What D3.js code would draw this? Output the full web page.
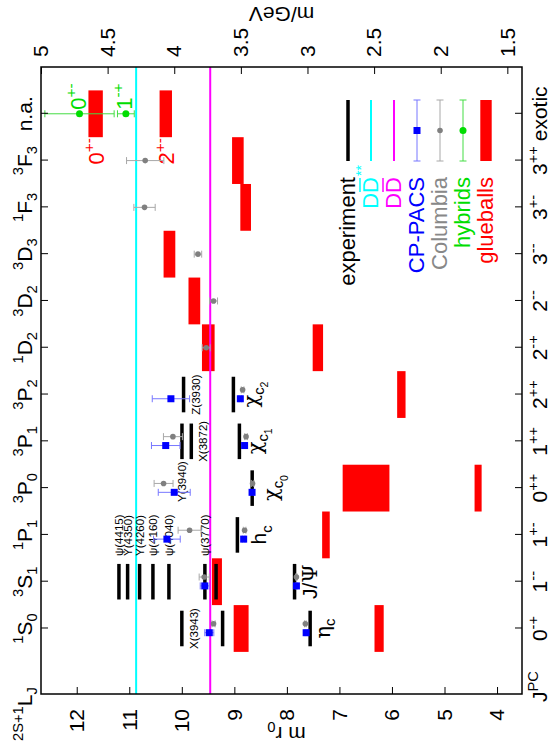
<!DOCTYPE html>
<html>
<head>
<meta charset="utf-8">
<script src="https://cdn.jsdelivr.net/npm/d3@7/dist/d3.min.js"></script>
<style>
body { margin: 0; background: #fff; }
text { font-family: "Liberation Sans", Arial, Helvetica, sans-serif; }
</style>
</head>
<body>
<svg id="chart" width="557" height="747"></svg>
<script>
// the plot is drawn landscape (747 x 557) and turned a quarter turn counter-clockwise

// states along the category axis
var stateSup = ["1","3","1","3","3","3","1","3","3","1","3",""];
var stateL   = ["S","S","P","P","P","P","D","D","D","F","F","n.a."];
var stateSub = ["0","1","1","0","1","2","2","2","3","3","3",""];
var jpcJ     = ["0","1","1","0","1","2","2","2","3","3","3","exotic"];
var jpcPC    = ["-+","--","+-","++","++","++","-+","--","--","+-","++",""];

var gevTicks = [1.5, 2, 2.5, 3, 3.5, 4, 4.5, 5];
var mr0Ticks = [4, 5, 6, 7, 8, 9, 10, 11, 12];
var r0 = 2.536; // m r0 per GeV

// D D-bar** and D D-bar thresholds (GeV)
var thrMass  = [4.286, 3.730];
var thrColor = ["#00ffff", "#ff00ff"];

// experiment (GeV)
var expState = [0,0,0, 1,1,1,1,1,1,1,1, 2, 3, 4,4,4, 5,5];
var expMass  = [2.980,3.637,3.943, 3.097,3.686,3.770,4.040,4.160,4.260,4.350,4.415, 3.526, 3.415, 3.511,3.872,3.942, 3.556,3.930];
var expName  = ["ηc","","X(3943)", "J/Ψ","","ψ(3770)","ψ(4040)","ψ(4160)","Y(4260)","Y(4350)","ψ(4415)", "hc", "χc0", "χc1","X(3872)","Y(3940)", "χc2","Z(3930)"];

// CP-PACS
var cpState = [0,0, 1,1, 2,2, 3,3, 4,4, 5,5];
var cpMass  = [3.010,3.737, 3.083,3.771, 3.479,4.055, 3.416,4.000, 3.472,4.064, 3.504,4.025];
var cpErr   = [0.008,0.034, 0.006,0.034, 0.010,0.100, 0.010,0.120, 0.010,0.107, 0.010,0.140];

// Columbia
var coState = [0,0, 1,1, 2,2, 3,3, 4,4, 5, 6,7,8, 9,10];
var coMass  = [3.016,3.705, 3.083,3.775, 3.472,3.885, 3.412,4.080, 3.461,4.010, 3.487, 3.760,3.705,3.822, 4.223,4.218];
var coErr   = [0.006,0.012, 0.006,0.038, 0.010,0.086, 0.010,0.071, 0.010,0.071, 0.010, 0.030,0.030,0.028, 0.080,0.140];

// hybrids
var hyState = [11, 11];
var hyMass  = [4.711, 4.363];
var hyErr   = [0.260, 0.063];
var hyJ     = ["0", "1"];
var hyPC    = ["+-", "-+"];

// glueballs (GeV band)
var gbState = [0,0, 1, 2, 3,3, 5, 6,6, 7, 8, 9, 10, 11,11];
var gbLow   = [3.442,2.428, 3.642, 2.833, 2.385,1.693, 2.264, 3.697,2.883, 3.805, 3.992, 3.424, 3.479, 4.536,4.017];
var gbHigh  = [3.554,2.497, 3.717, 2.890, 2.736,1.746, 2.327, 3.792,2.961, 3.893, 4.080, 3.504, 3.566, 4.644,4.110];
var gbJ     = ["","", "", "", "","", "", "","", "", "", "", "", "0","2"];
var gbPC    = ["","", "", "", "","", "", "","", "", "", "", "", "+-","+-"];

var legendNames  = ["experiment", "DD", "DD", "CP-PACS", "Columbia", "hybrids", "glueballs"];
var legendColors = ["#000000", "#00ffff", "#ff00ff", "#0000ff", "#888888", "#00dd00", "#ff0000"];

var svg = d3.select("#chart");
svg.append("rect").attr("width", 557).attr("height", 747).attr("fill", "#fff");

var g = svg.append("g").attr("transform", "translate(0,747) rotate(-90)");

var pLeft = 53, pRight = 680, pTop = 41, pBottom = 522;
var x = d3.scaleLinear().domain([-1.4, 12]).range([pLeft, pRight]);
var y = d3.scaleLinear().domain([1.39, 5.0]).range([pBottom, pTop]);
var yr = d3.scaleLinear().domain([1.39 * r0, 5.0 * r0]).range([pBottom, pTop]);
var step = x(1) - x(0);

function rich(t, parts, size) {
  var cur = 0;
  parts.forEach(function(p) {
    var shift = 0, fs = size;
    if (p[1] == "sup") { shift = -0.42 * size; fs = 0.7 * size; }
    if (p[1] == "sub") { shift = 0.25 * size; fs = 0.7 * size; }
    if (p[1] == "subsub") { shift = 0.45 * size; fs = 0.5 * size; }
    var ts = t.append("tspan").attr("dy", shift - cur).style("font-size", fs + "px").text(p[0]);
    if (p[2]) ts.style("font-family", p[2]);
    cur = shift;
  });
  return t;
}

// glueball boxes
gbState.forEach(function(s, i) {
  g.append("rect")
    .attr("x", x(s - 0.5)).attr("width", step)
    .attr("y", y(gbHigh[i])).attr("height", y(gbLow[i]) - y(gbHigh[i]))
    .attr("fill", "#ff0000");
  if (gbJ[i]) {
    rich(g.append("text").attr("x", x(s - 0.5) - 1).attr("y", y((gbLow[i] + gbHigh[i]) / 2) + 8)
      .attr("text-anchor", "end").attr("fill", "#ff0000").style("font-size", "22px"),
      [[gbJ[i], "n"], [gbPC[i], "sup"]], 22);
  }
});

// thresholds
thrMass.forEach(function(m, i) {
  g.append("line").attr("x1", pLeft).attr("x2", pRight)
    .attr("y1", y(m)).attr("y2", y(m))
    .attr("stroke", thrColor[i]).attr("stroke-width", 2);
});

// experiment bars and names
var greek = "'DejaVu Serif', serif";
var bigDy = {"ηc": 20, "J/Ψ": 22, "hc": 29, "χc0": 26, "χc1": 23, "χc2": 25};
var rightNames = ["ψ(3770)","ψ(4040)","ψ(4160)","Y(4260)","Y(4350)","ψ(4415)"];
expState.forEach(function(s, i) {
  var ym = y(expMass[i]);
  g.append("line").attr("x1", x(s - 0.38)).attr("x2", x(s + 0.38))
    .attr("y1", ym).attr("y2", ym)
    .attr("stroke", "#000").attr("stroke-width", 3.5);
  var n = expName[i];
  if (!n) return;
  if (bigDy[n] !== undefined) {
    var parts;
    if (n == "J/Ψ") parts = [["J/", "n"], ["Ψ", "n", greek]];
    else {
      parts = [[n.charAt(0), "n", n.charAt(0) == "h" ? null : greek], ["c", "sub"]];
      if (n.length > 2) parts.push([n.charAt(2), "subsub"]);
    }
    rich(g.append("text").attr("x", x(s)).attr("y", ym + bigDy[n])
      .attr("text-anchor", "middle").style("font-size", "21px"), parts, 21);
  } else if (rightNames.indexOf(n) >= 0) {
    g.append("text").attr("x", x(s + 0.38) + 8).attr("y", ym + 4)
      .style("font-size", "11.5px").text(n);
  } else if (n == "Y(3940)") {
    g.append("text").attr("x", x(s - 0.38) - 2).attr("y", ym + 4)
      .attr("text-anchor", "end").style("font-size", "11.5px").text(n);
  } else {
    g.append("text").attr("x", x(s)).attr("y", ym + 16)
      .attr("text-anchor", "middle").style("font-size", "11.5px").text(n);
  }
});

function errbar(px, m, e, col) {
  g.append("line").attr("x1", px).attr("x2", px).attr("y1", y(m - e)).attr("y2", y(m + e))
    .attr("stroke", col).attr("stroke-width", 1);
  [m - e, m + e].forEach(function(v) {
    g.append("line").attr("x1", px - 3.5).attr("x2", px + 3.5).attr("y1", y(v)).attr("y2", y(v))
      .attr("stroke", col).attr("stroke-width", 1);
  });
}

// Columbia
coState.forEach(function(s, i) {
  var px = x(s <= 5 ? s + 0.1 : s);
  errbar(px, coMass[i], coErr[i], "#a8a8a8");
  g.append("circle").attr("cx", px).attr("cy", y(coMass[i])).attr("r", 2.8).attr("fill", "#808080");
});

// CP-PACS
cpState.forEach(function(s, i) {
  var px = x(s - 0.09);
  errbar(px, cpMass[i], cpErr[i], "#7777ff");
  g.append("rect").attr("x", px - 3.5).attr("y", y(cpMass[i]) - 3.5)
    .attr("width", 7).attr("height", 7).attr("fill", "#0000ff");
});

// hybrids
hyState.forEach(function(s, i) {
  var px = x(s);
  errbar(px, hyMass[i], hyErr[i], "#44dd44");
  g.append("circle").attr("cx", px).attr("cy", y(hyMass[i])).attr("r", 3.5).attr("fill", "#00dd00");
  rich(g.append("text").attr("x", px + 4).attr("y", y(hyMass[i]) + 6)
    .attr("fill", "#00dd00").style("font-size", "22px"), [[hyJ[i], "n"], [hyPC[i], "sup"]], 22);
});

// legend
var lgX1 = 586, lgX2 = 647, lgTxt = 570;
legendNames.forEach(function(name, i) {
  var ly = 348 + i * 23;
  var col = legendColors[i];
  if (i == 0) {
    g.append("line").attr("x1", lgX1).attr("x2", lgX2).attr("y1", ly).attr("y2", ly)
      .attr("stroke", col).attr("stroke-width", 3.5);
  } else if (i < 3) {
    g.append("line").attr("x1", lgX1).attr("x2", lgX2).attr("y1", ly).attr("y2", ly)
      .attr("stroke", col).attr("stroke-width", 2);
  } else if (i < 6) {
    var lc = ["#7777ff", "#a8a8a8", "#44dd44"][i - 3];
    g.append("line").attr("x1", lgX1).attr("x2", lgX2).attr("y1", ly).attr("y2", ly).attr("stroke", lc);
    [lgX1, lgX2].forEach(function(cx) {
      g.append("line").attr("x1", cx).attr("x2", cx).attr("y1", ly - 3.5).attr("y2", ly + 3.5).attr("stroke", lc);
    });
    var mid = (lgX1 + lgX2) / 2;
    if (i == 3) g.append("rect").attr("x", mid - 3.5).attr("y", ly - 3.5).attr("width", 7).attr("height", 7).attr("fill", col);
    else g.append("circle").attr("cx", mid).attr("cy", ly).attr("r", i == 4 ? 2.8 : 3.5).attr("fill", i == 4 ? "#808080" : col);
  } else {
    g.append("rect").attr("x", lgX1).attr("width", lgX2 - lgX1).attr("y", ly - 5.7).attr("height", 11.4).attr("fill", col);
  }
  var t = g.append("text").attr("x", lgTxt).attr("y", ly + 7).attr("text-anchor", "end")
    .attr("fill", col).style("font-size", "22px").text(name);
  if (i == 1 || i == 2) {
    var w = t.node().getComputedTextLength();
    g.append("line").attr("x1", lgTxt - w / 2 + 1).attr("x2", lgTxt - 1)
      .attr("y1", ly + 7 - 18).attr("y2", ly + 7 - 18).attr("stroke", col).attr("stroke-width", 1.5);
    if (i == 1) g.append("text").attr("x", lgTxt + 1).attr("y", ly - 5).attr("fill", col)
      .style("font-size", "14px").text("**");
  }
});

// axes
function styleAxis(a) {
  a.select(".domain").remove();
  a.selectAll("line").attr("stroke", "#000");
  a.selectAll("text").style("font-size", "21px").attr("fill", "#000")
    .style("font-family", "'Liberation Sans', Arial, sans-serif");
}
styleAxis(g.append("g").attr("transform", "translate(" + pLeft + ",0)")
  .call(d3.axisLeft(yr).tickValues(mr0Ticks).tickSize(-7).tickSizeOuter(0).tickPadding(15).tickFormat(d3.format("d"))));
styleAxis(g.append("g").attr("transform", "translate(" + pRight + ",0)")
  .call(d3.axisRight(y).tickValues(gevTicks).tickSize(-7).tickSizeOuter(0).tickPadding(10).tickFormat(d3.format(""))));
styleAxis(g.append("g").attr("transform", "translate(0," + pTop + ")")
  .call(d3.axisTop(x).tickValues(d3.range(12)).tickSize(-7).tickSizeOuter(0).tickFormat("")));
styleAxis(g.append("g").attr("transform", "translate(0," + pBottom + ")")
  .call(d3.axisBottom(x).tickValues(d3.range(12)).tickSize(-7).tickSizeOuter(0).tickFormat("")));

g.append("rect").attr("x", pLeft).attr("y", pTop).attr("width", pRight - pLeft).attr("height", pBottom - pTop)
  .attr("fill", "none").attr("stroke", "#000").attr("stroke-width", 1.5);

// category labels
stateL.forEach(function(L, i) {
  var parts = stateSup[i] ? [[stateSup[i], "sup"], [L, "n"], [stateSub[i], "sub"]] : [[L, "n"]];
  rich(g.append("text").attr("x", x(i)).attr("y", 32).attr("text-anchor", "middle").style("font-size", "21px"), parts, 21);
  var jp = jpcPC[i] ? [[jpcJ[i], "n"], [jpcPC[i], "sup"]] : [[jpcJ[i], "n"]];
  rich(g.append("text").attr("x", x(i)).attr("y", 547).attr("text-anchor", "middle").style("font-size", "21px"), jp, 21);
});
rich(g.append("text").attr("x", 6).attr("y", 32).style("font-size", "21px"),
  [["2S+1", "sup"], ["L", "n"], ["J", "sub"]], 21);
rich(g.append("text").attr("x", 45).attr("y", 547).style("font-size", "21px"),
  [["J", "n"], ["PC", "sup"]], 21);

// axis titles
rich(g.append("text").attr("transform", "translate(20," + ((pTop + pBottom) / 2 + 5) + ") rotate(-90)")
  .attr("text-anchor", "middle").style("font-size", "21px"), [["m r", "n"], ["0", "sub"]], 21);
g.append("text").attr("transform", "translate(740," + ((pTop + pBottom) / 2) + ") rotate(-90)")
  .attr("text-anchor", "middle").style("font-size", "21px").text("m/GeV");
</script>
</body>
</html>
